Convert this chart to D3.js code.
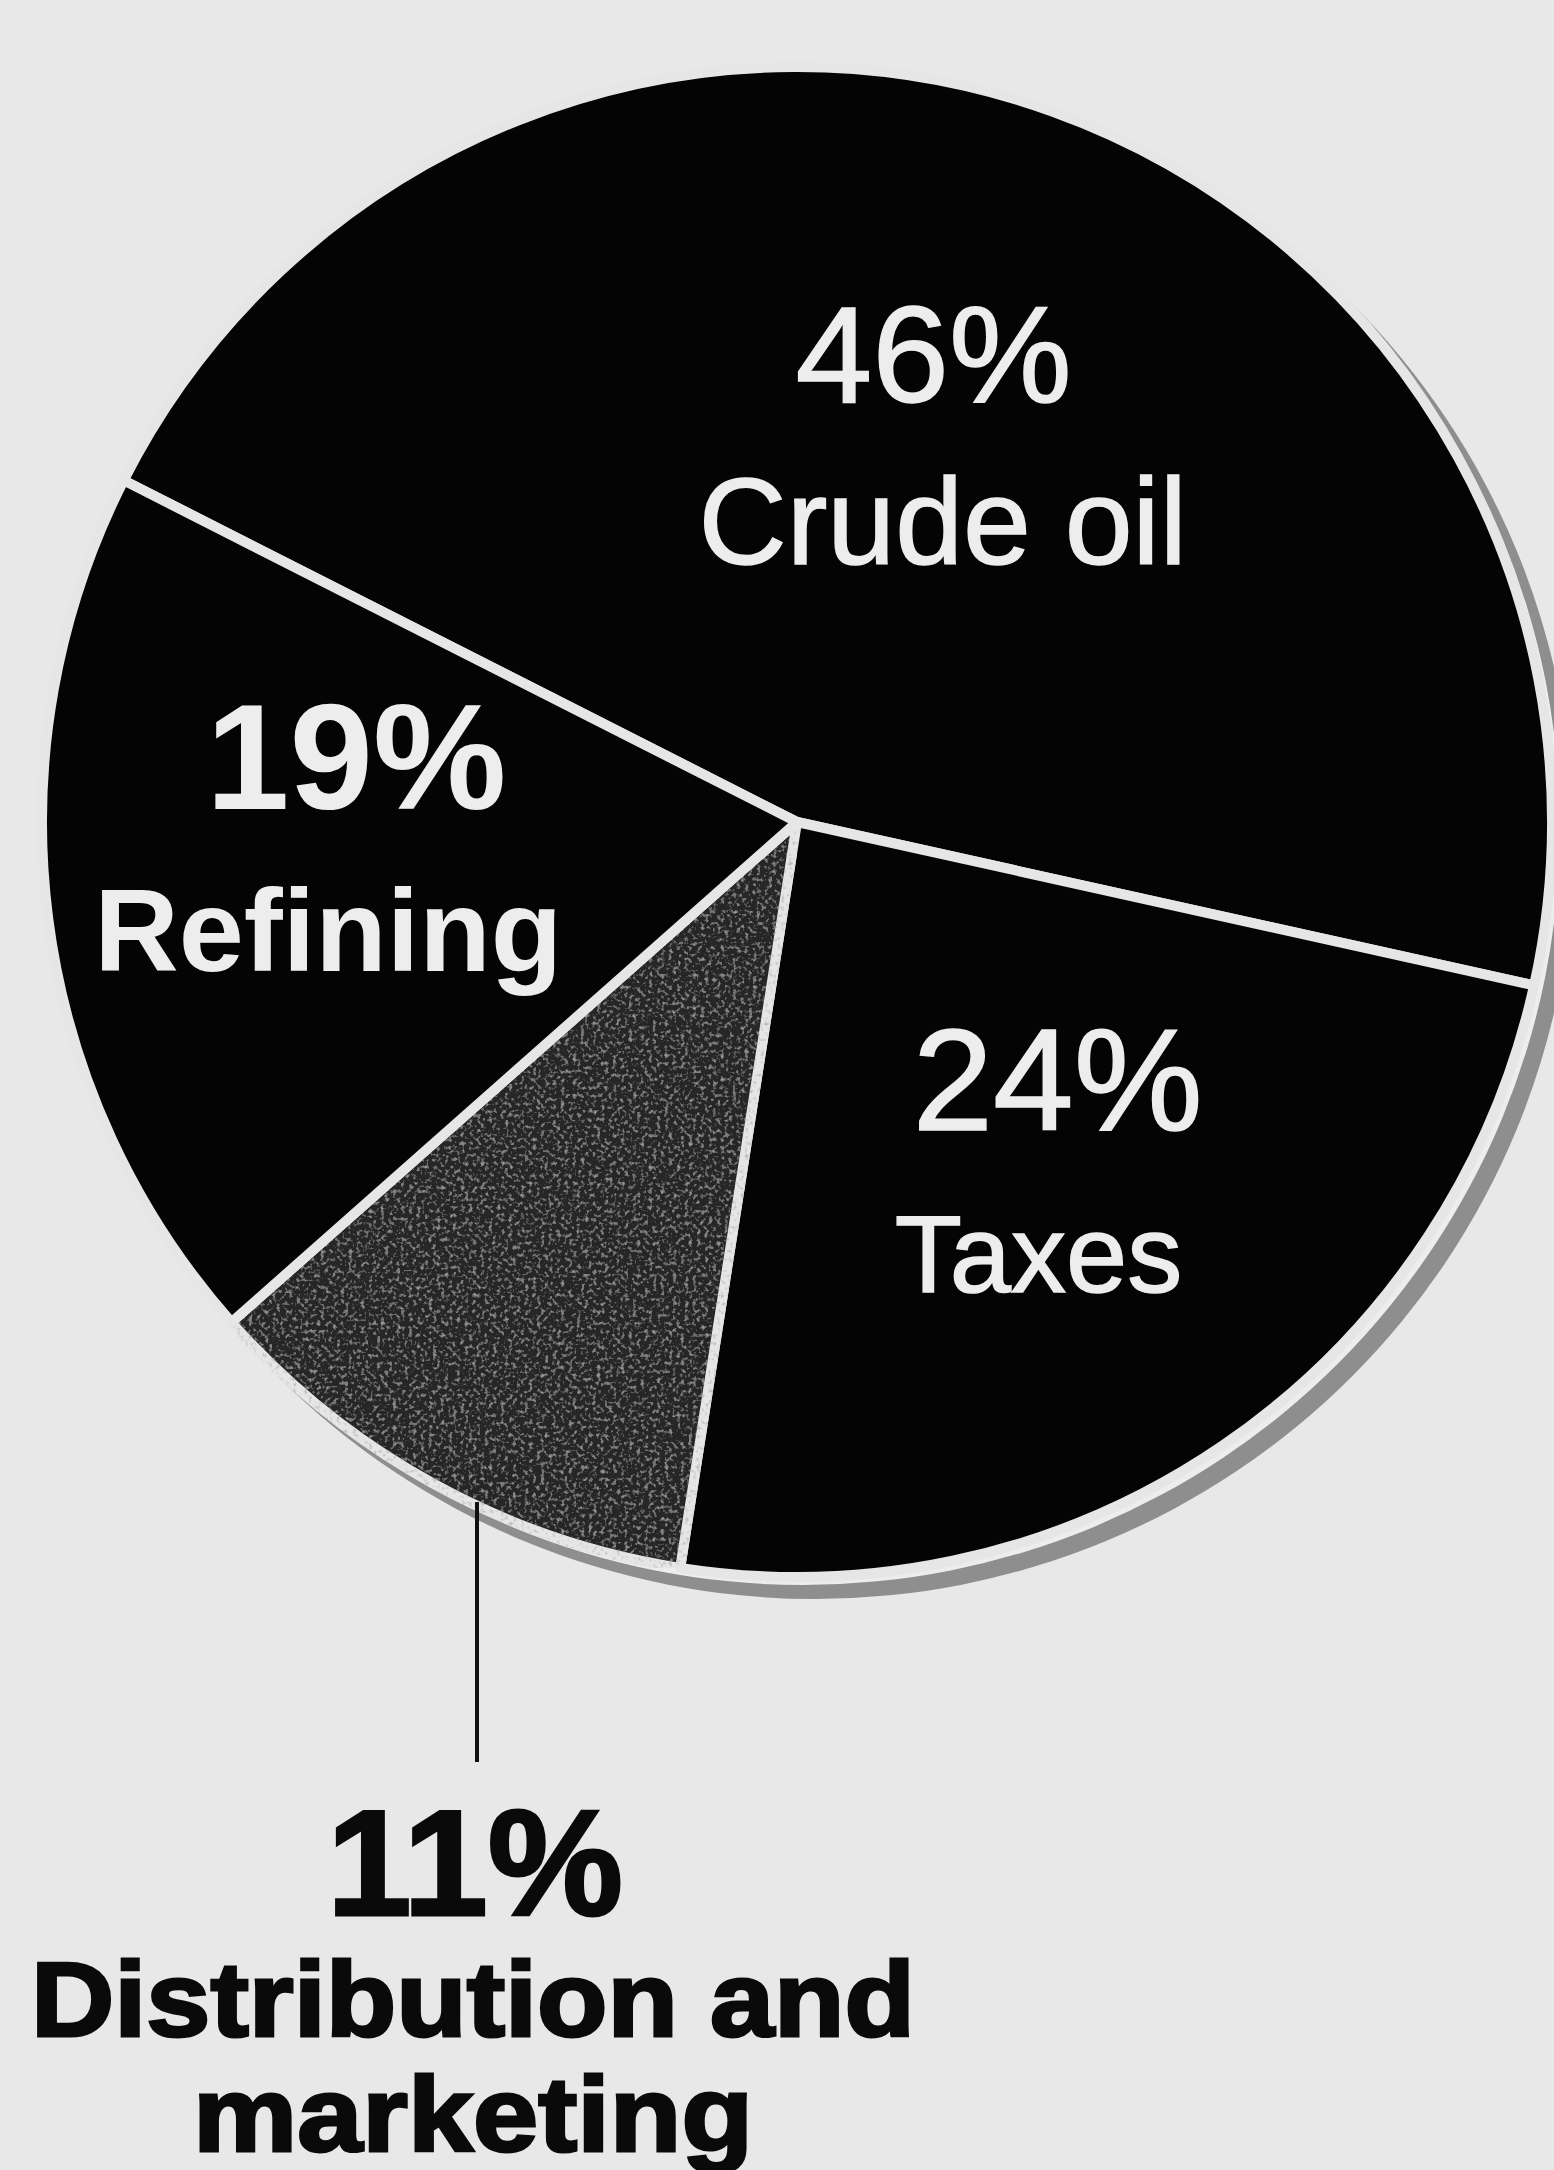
<!DOCTYPE html>
<html>
<head>
<meta charset="utf-8">
<script src="https://cdn.jsdelivr.net/npm/d3@7"></script>
<style>
  html, body { margin: 0; padding: 0; background: #e8e8e8; }
  #chart { width: 1554px; height: 2170px; }
  text { font-family: "Liberation Sans", Arial, Helvetica, sans-serif; }
</style>
</head>
<body>
<div id="chart"></div>
<script>
// Slice data, clockwise from the crude oil / refining boundary
var categories = ["Crude oil", "Taxes", "Distribution and marketing", "Refining"];
var shares = [46, 24, 11, 19];
var pctLabels = ["46%", "24%", "11%", "19%"];

var width = 1554, height = 2170;
var cx = 797, cy = 822, radius = 755;

var svg = d3.select("#chart").append("svg")
    .attr("width", width)
    .attr("height", height);

// Paper background
svg.append("rect")
    .attr("width", width)
    .attr("height", height)
    .attr("fill", "#e8e8e8");

// Speckle filter for the grey slice
var defs = svg.append("defs");
var f = defs.append("filter").attr("id", "speckle")
    .attr("x", 0).attr("y", 0).attr("width", 1).attr("height", 1);
f.append("feTurbulence")
    .attr("type", "fractalNoise")
    .attr("baseFrequency", 0.25)
    .attr("numOctaves", 2)
    .attr("seed", 4)
    .attr("result", "noise");
f.append("feColorMatrix")
    .attr("in", "noise")
    .attr("type", "matrix")
    .attr("values", "0 0 0 0 0.4  0 0 0 0 0.4  0 0 0 0 0.4  0 0 0 2.4 -1.25")
    .attr("result", "dots");
f.append("feComposite")
    .attr("in", "dots")
    .attr("in2", "SourceGraphic")
    .attr("operator", "in")
    .attr("result", "clipped");
f.append("feMerge").selectAll("feMergeNode")
    .data(["SourceGraphic", "clipped"])
    .enter().append("feMergeNode")
    .attr("in", function(d) { return d; });

var g = svg.append("g")
    .attr("transform", "translate(" + cx + "," + cy + ")");

// Shadow and white rim behind the pie
g.append("circle")
    .attr("cx", 18).attr("cy", 18)
    .attr("r", radius + 4)
    .attr("fill", "#8e8e8e");
g.append("circle")
    .attr("cx", 6).attr("cy", 6)
    .attr("r", radius + 2)
    .attr("fill", "#ededed");

var start = -63.1 * Math.PI / 180;
var pie = d3.pie().sort(null)
    .startAngle(start)
    .endAngle(start + 2 * Math.PI);

var arcs = pie(shares);

var arc = d3.arc().innerRadius(0).outerRadius(radius);

var fills = ["#040404", "#040404", "#262626", "#040404"];

g.selectAll("path.slice")
    .data(arcs)
    .enter().append("path")
    .attr("class", "slice")
    .attr("d", arc)
    .attr("fill", function(d, i) { return fills[i]; })
    .attr("filter", function(d, i) { return i === 2 ? "url(#speckle)" : null; })
    .attr("stroke", "#e6e6e6")
    .attr("stroke-width", 10)
    .attr("stroke-linejoin", "round");

// Labels inside the slices
var labelRadius = [0.49, 0.61, 0, 0.61];
var labelBold = [false, false, true, true];
var pctSize = [138, 145, 150, 150];
var nameSize = [122, 110, 112, 117];
var pctDx = [12, 1, 0, 16];
var nameDx = [21, -18, 0, -12];

arcs.forEach(function(d, i) {
    if (i === 2) return;
    var r = radius * labelRadius[i];
    var c = d3.arc().innerRadius(r).outerRadius(r).centroid(d);
    g.append("text")
        .attr("x", c[0] + pctDx[i])
        .attr("y", c[1] - 72)
        .attr("text-anchor", "middle")
        .attr("fill", "#ededed")
        .attr("stroke", "#ededed")
        .attr("stroke-width", labelBold[i] ? 0 : 1.5)
        .attr("font-size", pctSize[i])
        .attr("font-weight", labelBold[i] ? "bold" : "normal")
        .text(pctLabels[i]);
    g.append("text")
        .attr("x", c[0] + nameDx[i])
        .attr("y", c[1] + 90)
        .attr("text-anchor", "middle")
        .attr("fill", "#ededed")
        .attr("stroke", "#ededed")
        .attr("stroke-width", labelBold[i] ? 0 : 1.5)
        .attr("font-size", nameSize[i])
        .attr("font-weight", labelBold[i] ? "bold" : "normal")
        .text(categories[i]);
});

// Leader line and outside label for distribution
var lx = 477;
svg.append("line")
    .attr("x1", lx).attr("x2", lx)
    .attr("y1", 1502).attr("y2", 1762)
    .attr("stroke", "#111")
    .attr("stroke-width", 4);

svg.append("text")
    .attr("x", lx - 2)
    .attr("y", 1915)
    .attr("text-anchor", "middle")
    .attr("fill", "#0a0a0a")
    .attr("stroke", "#0a0a0a")
    .attr("stroke-width", 3)
    .attr("font-size", 150)
    .attr("font-weight", "bold")
    .attr("textLength", 296)
    .attr("lengthAdjust", "spacingAndGlyphs")
    .text(pctLabels[2]);

var distLines = ["Distribution and", "marketing"];
var distWidths = [884, 560];
svg.selectAll("text.dist")
    .data(distLines)
    .enter().append("text")
    .attr("class", "dist")
    .attr("x", 473)
    .attr("y", function(d, i) { return 2036 + i * 115; })
    .attr("text-anchor", "middle")
    .attr("fill", "#0a0a0a")
    .attr("stroke", "#0a0a0a")
    .attr("stroke-width", 3)
    .attr("font-size", 106)
    .attr("font-weight", "bold")
    .attr("textLength", function(d, i) { return distWidths[i]; })
    .attr("lengthAdjust", "spacingAndGlyphs")
    .text(function(d) { return d; });
</script>
</body>
</html>
